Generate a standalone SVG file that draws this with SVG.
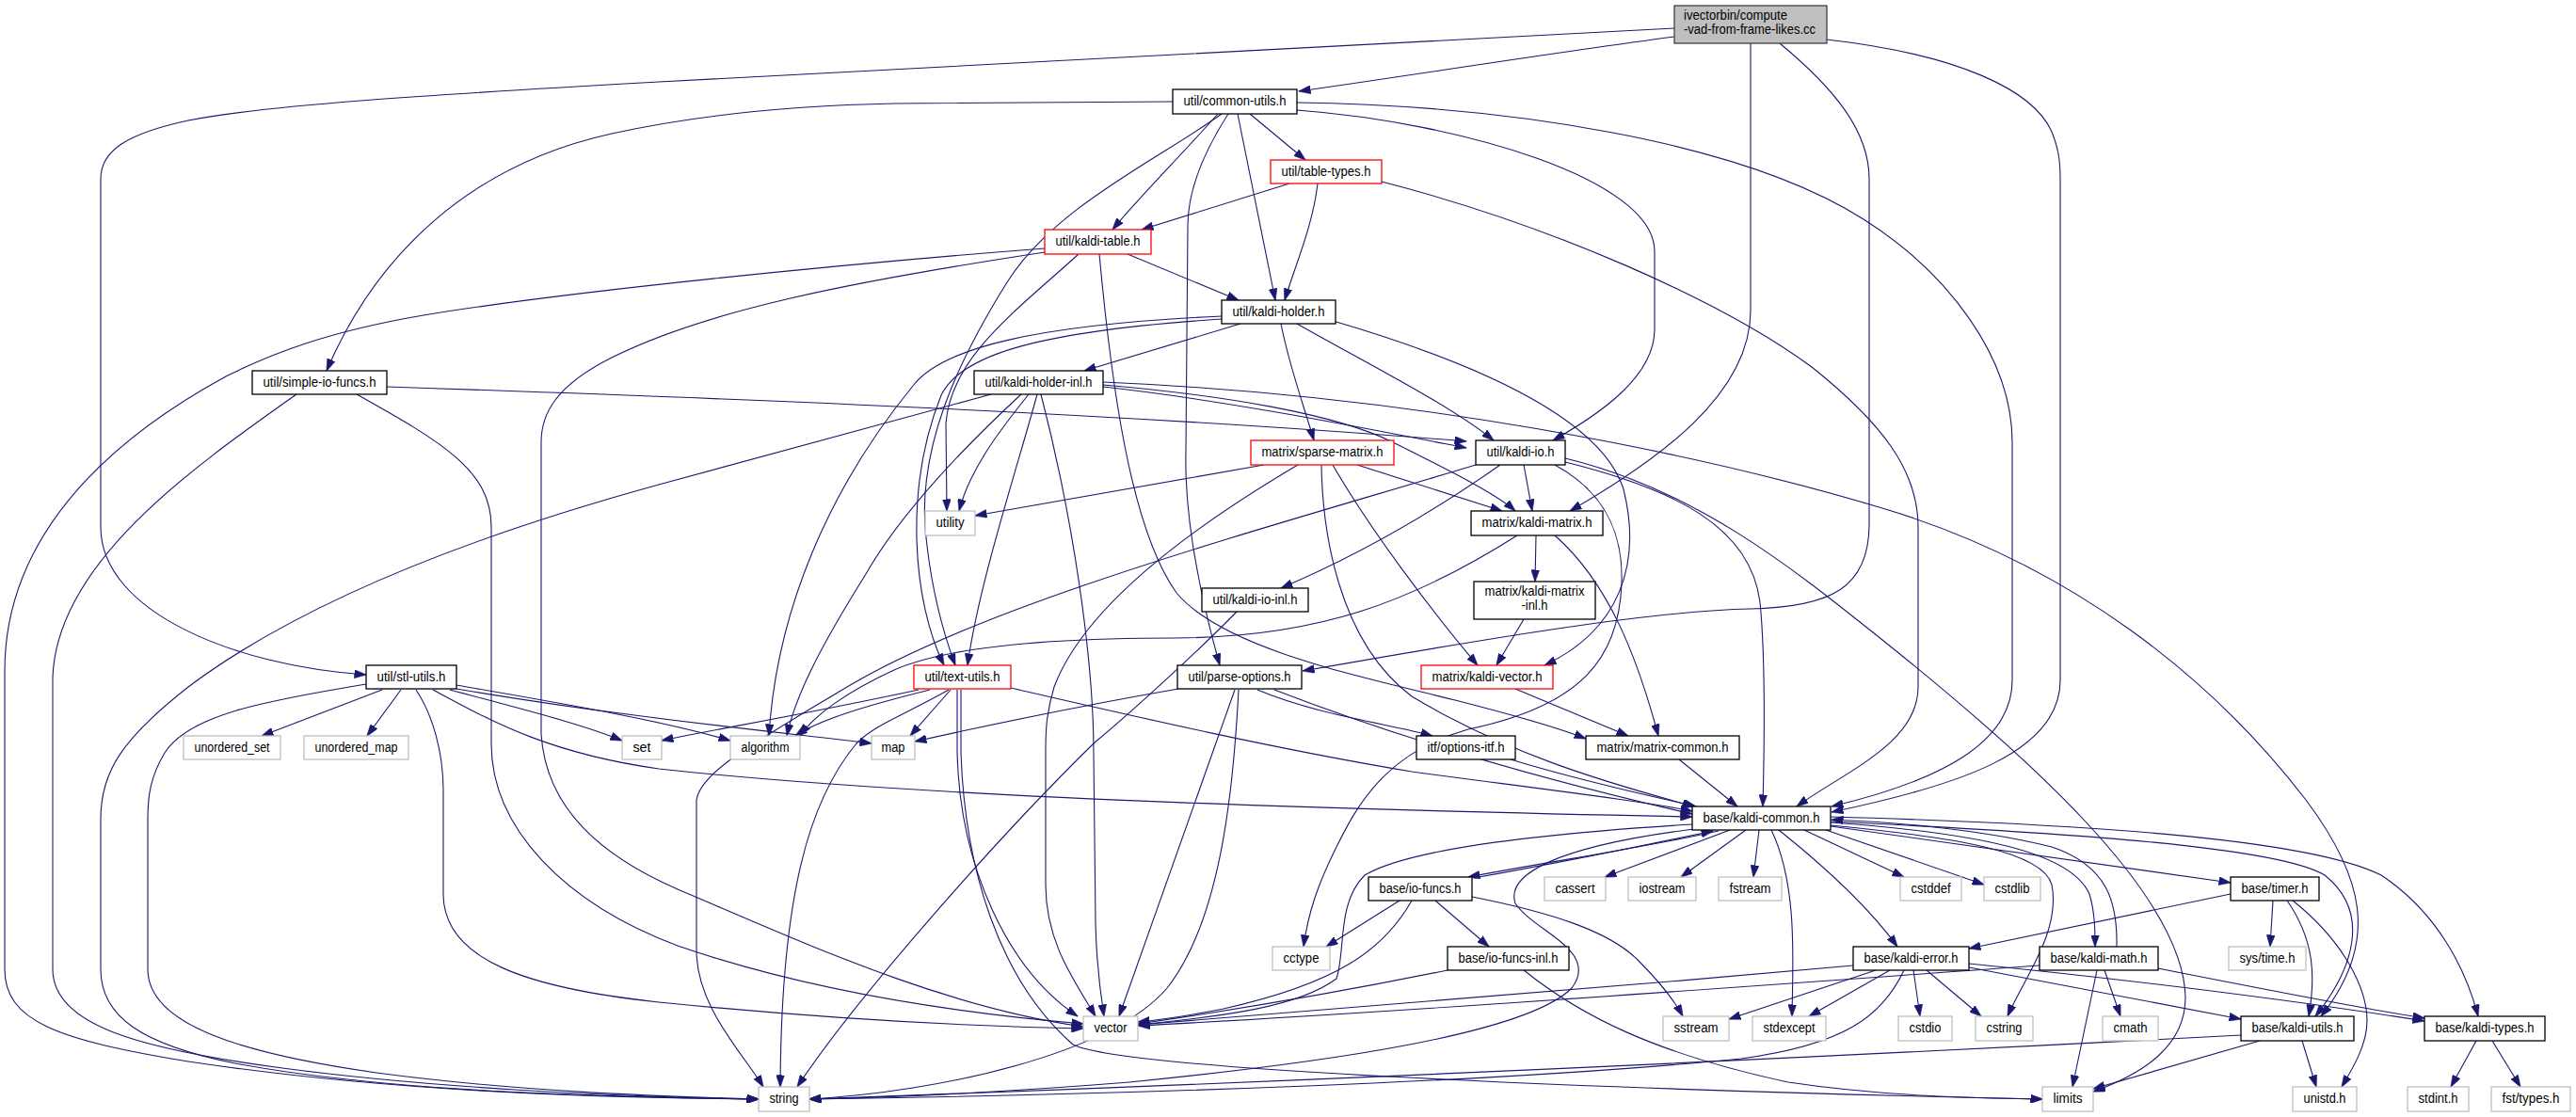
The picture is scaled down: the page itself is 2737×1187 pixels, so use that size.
<svg xmlns="http://www.w3.org/2000/svg" width="2737" height="1187" viewBox="0 0 2737 1187">
<style>
.n rect{fill:#ffffff;stroke:#000000;stroke-width:1.3}
.n.r rect{stroke:#ff0000}
.n.g rect{stroke:#bfbfbf}
.n.m rect{fill:#bfbfbf;stroke:#404040}
text{font-family:"Liberation Sans",Arial,sans-serif;font-size:14px;fill:#000000;text-anchor:middle}
.m text{text-anchor:start}
.e path{fill:none;stroke:#191970;stroke-width:1.1;marker-end:url(#a)}
</style>
<defs>
<marker id="a" markerWidth="13" markerHeight="9" refX="12.5" refY="4.5" orient="auto" markerUnits="userSpaceOnUse"><path d="M0,0 L13,4.5 L0,9 z" fill="#191970" stroke="#191970" stroke-width="0.5"/></marker>
</defs>
<rect x="0" y="0" width="2737" height="1187" fill="#ffffff"/>
<g id="edges" class="e">
<path d="M1779,39 C1650,56 1500,80 1380,97"/>
<path d="M1779,30 L700,87 C450,101 280,112 200,128 C135,142 107,160 107,190 L107,560 C107,650 250,708 389,717"/>
<path d="M1860,46 L1860,330 C1860,420 1760,490 1668,543"/>
<path d="M1891,46 C1950,95 1986,140 1986,190 L1986,557 C1986,625 1945,645 1860,647 C1760,649 1600,675 1384,713"/>
<path d="M1941,42 C2080,58 2160,95 2180,140 C2187,158 2189,170 2189,190 L2189,723 C2189,800 2080,835 1946,863"/>
<path d="M1246,108 L950,110 C850,112 750,120 650,142 C500,175 400,270 347,394"/>
<path d="M1328,121 L1387,170"/>
<path d="M1294,121 C1255,165 1210,210 1182,244"/>
<path d="M1315,121 L1355,319"/>
<path d="M1370,195 L1213,244"/>
<path d="M1400,195 C1395,240 1375,285 1365,319"/>
<path d="M1378,117 C1550,130 1758,190 1758,267 L1758,350 C1758,400 1700,440 1650,468"/>
<path d="M1378,109 C1600,112 1850,150 1980,233 C2070,290 2138,380 2138,470 L2138,723 C2138,790 2060,830 1946,857"/>
<path d="M1468,193 C1650,240 1830,320 1925,390 C2000,450 2038,500 2038,560 L2038,730 C2038,790 1960,820 1909,857"/>
<path d="M1198,270 L1316,319"/>
<path d="M1146,270 C1080,330 1010,380 1005,450 L1006,543"/>
<path d="M1110,264 C900,280 600,310 450,335 C350,352 290,375 240,400 C130,460 5,560 5,713 L5,1030 C5,1085 60,1105 200,1128 C400,1158 600,1166 806,1168"/>
<path d="M1110,268 C900,300 750,330 650,380 C590,410 575,440 575,470 L575,780 C580,860 640,910 720,945 C850,1000 1000,1070 1151,1091"/>
<path d="M1168,270 C1180,400 1200,560 1250,630 C1300,690 1450,720 1550,745 C1620,763 1660,775 1685,785"/>
<path d="M1318,344 L1152,394"/>
<path d="M1361,344 C1370,390 1385,430 1396,468"/>
<path d="M1378,344 C1450,385 1540,430 1587,468"/>
<path d="M1413,340 C1550,380 1700,440 1725,520 C1745,600 1720,670 1641,707"/>
<path d="M1298,336 C1100,345 1000,370 970,410 C880,520 825,650 817,782"/>
<path d="M1298,339 C1100,352 1020,378 1000,420 C960,520 970,640 1003,707"/>
<path d="M1298,121 C1230,170 1120,220 1070,300 C1020,380 970,480 985,580 C992,640 1005,680 1015,707"/>
<path d="M1305,121 C1280,160 1262,200 1262,240 L1260,480 C1258,560 1280,650 1296,707"/>
<path d="M1053,419 L700,515 C500,570 320,640 200,730 C130,785 107,820 107,870 L107,1030 C107,1080 150,1110 250,1130 C400,1158 600,1165 806,1168"/>
<path d="M389,727 C280,745 200,760 175,800 C160,825 157,845 157,870 L157,1030 C157,1090 260,1120 400,1140 C550,1160 700,1165 806,1168"/>
<path d="M315,419 C200,500 60,600 56,720 L56,1030 C56,1090 150,1115 300,1135 C450,1155 650,1166 806,1168"/>
<path d="M379,419 C470,470 522,500 522,560 L522,790 C522,880 600,960 720,1005 C850,1050 1000,1075 1151,1088"/>
<path d="M442,733 C460,760 471,800 471,840 L471,950 C471,1020 560,1050 700,1065 C850,1080 1000,1090 1151,1093"/>
<path d="M406,733 L278,782"/>
<path d="M426,733 L390,782"/>
<path d="M478,733 C560,755 620,770 661,787"/>
<path d="M485,728 C600,748 700,765 776,787"/>
<path d="M485,732 C650,760 800,775 926,790"/>
<path d="M460,733 C520,765 580,800 700,817 C1000,850 1500,862 1798,868"/>
<path d="M1568,494 C1350,560 1050,640 900,730 C800,790 745,820 740,850 L740,1010 C740,1070 790,1120 811,1155"/>
<path d="M1594,494 C1500,560 1420,600 1361,625"/>
<path d="M1619,494 L1628,543"/>
<path d="M1652,494 C1700,520 1725,560 1723,620 C1720,700 1680,750 1560,775 C1470,800 1440,860 1420,900 C1400,940 1390,970 1385,1006"/>
<path d="M1663,487 C1800,520 1900,600 2000,680 C2150,800 2320,950 2322,1060 C2322,1110 2280,1140 2224,1160"/>
<path d="M1663,491 C1780,520 1860,560 1870,640 C1876,700 1875,780 1873,857"/>
<path d="M1172,411 C1300,425 1450,455 1558,476"/>
<path d="M1172,409 C1300,420 1420,440 1480,470 C1540,500 1590,525 1610,543"/>
<path d="M1172,406 C1500,420 1800,480 2000,540 C2200,600 2350,720 2450,850 C2510,930 2530,1000 2466,1080"/>
<path d="M411,411 C800,424 1200,440 1558,469"/>
<path d="M1093,419 C1060,460 1030,500 1019,543"/>
<path d="M1085,419 C1030,470 960,540 920,610 C870,690 845,740 836,782"/>
<path d="M1102,419 C1080,500 1040,620 1028,707"/>
<path d="M1106,419 C1140,550 1162,700 1162,800 L1164,980 C1165,1030 1170,1060 1173,1080"/>
<path d="M1343,494 L1036,548"/>
<path d="M1442,494 L1596,543"/>
<path d="M1416,494 C1460,570 1530,660 1570,707"/>
<path d="M1379,494 C1250,570 1150,650 1120,730 C1111,760 1111,780 1111,800 L1111,940 C1111,1000 1140,1040 1164,1080"/>
<path d="M1404,494 C1405,560 1420,680 1500,740 C1600,800 1700,830 1800,857"/>
<path d="M1632,569 L1631,618"/>
<path d="M1652,569 C1710,620 1740,700 1762,782"/>
<path d="M1612,569 C1500,640 1400,677 1250,678 C1100,678 1000,690 950,712 C900,735 865,760 850,782"/>
<path d="M1619,658 L1590,707"/>
<path d="M1610,732 L1730,782"/>
<path d="M976,733 C850,760 760,775 703,787"/>
<path d="M988,733 C920,750 870,765 845,782"/>
<path d="M1010,733 L967,782"/>
<path d="M1008,733 C960,760 930,770 910,790 C860,850 830,950 829,1155"/>
<path d="M1017,733 L1017,800 C1020,920 1070,1030 1145,1080"/>
<path d="M1021,733 L1021,800 C1025,920 1060,1040 1140,1110 C1200,1140 1800,1160 2170,1168"/>
<path d="M1074,731 C1200,760 1350,795 1500,820 C1650,840 1750,852 1798,862"/>
<path d="M1252,732 C1120,755 1030,775 972,788"/>
<path d="M1312,733 L1189,1080"/>
<path d="M1316,733 C1310,850 1295,980 1240,1050 C1180,1120 1000,1160 860,1168"/>
<path d="M1336,733 C1400,760 1480,770 1522,782"/>
<path d="M1354,733 C1450,770 1600,820 1798,865"/>
<path d="M1605,807 C1680,830 1750,845 1802,857"/>
<path d="M1784,807 L1846,857"/>
<path d="M1826,883 C1750,900 1650,915 1560,932"/>
<path d="M1566,933 C1650,918 1740,900 1820,883"/>
<path d="M1838,882 L1705,932"/>
<path d="M1855,882 L1786,932"/>
<path d="M1869,882 L1863,932"/>
<path d="M1882,882 C1910,940 1905,1020 1904,1080"/>
<path d="M1890,882 C1950,930 1990,970 2016,1006"/>
<path d="M1917,882 L2023,932"/>
<path d="M1940,882 L2108,940"/>
<path d="M1945,878 C2100,900 2250,920 2370,938"/>
<path d="M1945,874 C2100,885 2200,905 2220,950 C2226,970 2226,990 2226,1006"/>
<path d="M2249,1006 C2250,960 2240,920 2180,900 C2100,880 2000,873 1946,871"/>
<path d="M1945,877 C2080,890 2170,905 2180,940 C2190,990 2150,1040 2133,1080"/>
<path d="M1945,873 C2200,885 2420,900 2470,930 C2520,970 2500,1030 2460,1080"/>
<path d="M1945,868 C2200,875 2450,890 2530,930 C2590,970 2620,1030 2633,1080"/>
<path d="M1798,876 C1650,885 1500,900 1450,930 C1420,960 1430,1010 1420,1040 C1380,1070 1300,1080 1209,1089"/>
<path d="M1800,881 C1650,900 1600,930 1610,960 C1630,990 1700,1010 1670,1050 C1620,1100 1400,1130 1200,1150 C1050,1162 950,1166 860,1168"/>
<path d="M1487,957 L1409,1006"/>
<path d="M1500,957 C1470,1010 1420,1045 1300,1072 C1260,1080 1230,1084 1209,1086"/>
<path d="M1525,957 L1582,1006"/>
<path d="M1564,953 C1650,970 1710,990 1740,1020 C1765,1045 1780,1065 1788,1080"/>
<path d="M1538,1031 C1420,1055 1300,1075 1209,1088"/>
<path d="M1619,1031 C1680,1080 1760,1120 1900,1150 C2000,1165 2100,1167 2170,1168"/>
<path d="M1969,1026 C1700,1050 1400,1075 1209,1089"/>
<path d="M1993,1031 L1837,1083"/>
<path d="M2008,1031 L1922,1080"/>
<path d="M2023,1031 C2000,1080 1960,1110 1850,1125 C1600,1150 1200,1163 860,1168"/>
<path d="M2033,1031 L2040,1080"/>
<path d="M2047,1031 L2105,1080"/>
<path d="M2092,1028 L2381,1083"/>
<path d="M2092,1024 C2300,1045 2450,1065 2576,1085"/>
<path d="M2167,1026 C1900,1045 1500,1075 1209,1090"/>
<path d="M2228,1031 L2202,1155"/>
<path d="M2236,1031 L2253,1080"/>
<path d="M2293,1029 C2400,1050 2500,1070 2576,1082"/>
<path d="M2370,950 L2092,1008"/>
<path d="M2415,957 L2412,1006"/>
<path d="M2430,957 C2460,1000 2460,1040 2453,1080"/>
<path d="M2436,957 C2490,1000 2515,1050 2515,1085 C2515,1110 2500,1135 2488,1155"/>
<path d="M2381,1100 C2000,1120 1500,1145 860,1168"/>
<path d="M2401,1106 L2224,1157"/>
<path d="M2446,1106 L2461,1155"/>
<path d="M2631,1106 L2604,1155"/>
<path d="M2648,1106 L2678,1155"/>
<path d="M1314,650 C1280,685 1210,750 1162,790 C1060,890 910,1060 847,1155"/>
</g>
<g id="n_main" class="n m"><rect x="1779" y="6" width="162" height="40"/><text x="1789" y="21" textLength="110" lengthAdjust="spacingAndGlyphs">ivectorbin/compute</text><text x="1789" y="36" textLength="140" lengthAdjust="spacingAndGlyphs">-vad-from-frame-likes.cc</text></g>
<g id="n_common_utils" class="n"><rect x="1246" y="95" width="132" height="26"/><text x="1312" y="112" textLength="109" lengthAdjust="spacingAndGlyphs">util/common-utils.h</text></g>
<g id="n_table_types" class="n r"><rect x="1350" y="170" width="118" height="25"/><text x="1409" y="187" textLength="95" lengthAdjust="spacingAndGlyphs">util/table-types.h</text></g>
<g id="n_kaldi_table" class="n r"><rect x="1110" y="244" width="113" height="26"/><text x="1166.5" y="261" textLength="90" lengthAdjust="spacingAndGlyphs">util/kaldi-table.h</text></g>
<g id="n_kaldi_holder" class="n"><rect x="1298" y="319" width="121" height="25"/><text x="1358.5" y="336" textLength="98" lengthAdjust="spacingAndGlyphs">util/kaldi-holder.h</text></g>
<g id="n_simple_io_funcs" class="n"><rect x="268" y="394" width="143" height="25"/><text x="339.5" y="411" textLength="120" lengthAdjust="spacingAndGlyphs">util/simple-io-funcs.h</text></g>
<g id="n_kaldi_holder_inl" class="n"><rect x="1035" y="394" width="137" height="25"/><text x="1103.5" y="411" textLength="114" lengthAdjust="spacingAndGlyphs">util/kaldi-holder-inl.h</text></g>
<g id="n_sparse_matrix" class="n r"><rect x="1329" y="468" width="152" height="26"/><text x="1405" y="485" textLength="129" lengthAdjust="spacingAndGlyphs">matrix/sparse-matrix.h</text></g>
<g id="n_kaldi_io" class="n"><rect x="1568" y="468" width="95" height="26"/><text x="1615.5" y="485" textLength="72" lengthAdjust="spacingAndGlyphs">util/kaldi-io.h</text></g>
<g id="n_utility" class="n g"><rect x="983" y="543" width="53" height="26"/><text x="1009.5" y="560" textLength="30" lengthAdjust="spacingAndGlyphs">utility</text></g>
<g id="n_kaldi_matrix" class="n"><rect x="1563" y="543" width="140" height="26"/><text x="1633" y="560" textLength="117" lengthAdjust="spacingAndGlyphs">matrix/kaldi-matrix.h</text></g>
<g id="n_kaldi_io_inl" class="n"><rect x="1277" y="625" width="113" height="25"/><text x="1333.5" y="642" textLength="90" lengthAdjust="spacingAndGlyphs">util/kaldi-io-inl.h</text></g>
<g id="n_kaldi_matrix_inl" class="n"><rect x="1566" y="618" width="129" height="40"/><text x="1630.5" y="633" textLength="106" lengthAdjust="spacingAndGlyphs">matrix/kaldi-matrix</text><text x="1630.5" y="648" textLength="28" lengthAdjust="spacingAndGlyphs">-inl.h</text></g>
<g id="n_stl_utils" class="n"><rect x="389" y="707" width="96" height="25"/><text x="437" y="724" textLength="73" lengthAdjust="spacingAndGlyphs">util/stl-utils.h</text></g>
<g id="n_text_utils" class="n r"><rect x="971" y="707" width="103" height="25"/><text x="1022.5" y="724" textLength="80" lengthAdjust="spacingAndGlyphs">util/text-utils.h</text></g>
<g id="n_parse_options" class="n"><rect x="1251" y="707" width="132" height="25"/><text x="1317" y="724" textLength="109" lengthAdjust="spacingAndGlyphs">util/parse-options.h</text></g>
<g id="n_kaldi_vector" class="n r"><rect x="1510" y="707" width="140" height="25"/><text x="1580" y="724" textLength="117" lengthAdjust="spacingAndGlyphs">matrix/kaldi-vector.h</text></g>
<g id="n_unordered_set" class="n g"><rect x="195" y="782" width="103" height="25"/><text x="246.5" y="799" textLength="80" lengthAdjust="spacingAndGlyphs">unordered_set</text></g>
<g id="n_unordered_map" class="n g"><rect x="323" y="782" width="111" height="25"/><text x="378.5" y="799" textLength="88" lengthAdjust="spacingAndGlyphs">unordered_map</text></g>
<g id="n_set" class="n g"><rect x="661" y="782" width="42" height="25"/><text x="682" y="799" textLength="19" lengthAdjust="spacingAndGlyphs">set</text></g>
<g id="n_algorithm" class="n g"><rect x="776" y="782" width="74" height="25"/><text x="813" y="799" textLength="51" lengthAdjust="spacingAndGlyphs">algorithm</text></g>
<g id="n_map" class="n g"><rect x="926" y="782" width="46" height="25"/><text x="949" y="799" textLength="25" lengthAdjust="spacingAndGlyphs">map</text></g>
<g id="n_options_itf" class="n"><rect x="1505" y="782" width="105" height="25"/><text x="1557.5" y="799" textLength="82" lengthAdjust="spacingAndGlyphs">itf/options-itf.h</text></g>
<g id="n_matrix_common" class="n"><rect x="1685" y="782" width="163" height="25"/><text x="1766.5" y="799" textLength="140" lengthAdjust="spacingAndGlyphs">matrix/matrix-common.h</text></g>
<g id="n_kaldi_common" class="n"><rect x="1798" y="857" width="147" height="25"/><text x="1871.5" y="874" textLength="124" lengthAdjust="spacingAndGlyphs">base/kaldi-common.h</text></g>
<g id="n_io_funcs" class="n"><rect x="1454" y="932" width="110" height="25"/><text x="1509" y="949" textLength="87" lengthAdjust="spacingAndGlyphs">base/io-funcs.h</text></g>
<g id="n_cassert" class="n g"><rect x="1641" y="932" width="65" height="25"/><text x="1673.5" y="949" textLength="42" lengthAdjust="spacingAndGlyphs">cassert</text></g>
<g id="n_iostream" class="n g"><rect x="1730" y="932" width="72" height="25"/><text x="1766" y="949" textLength="49" lengthAdjust="spacingAndGlyphs">iostream</text></g>
<g id="n_fstream" class="n g"><rect x="1826" y="932" width="67" height="25"/><text x="1859.5" y="949" textLength="44" lengthAdjust="spacingAndGlyphs">fstream</text></g>
<g id="n_cstddef" class="n g"><rect x="2019" y="932" width="65" height="25"/><text x="2051.5" y="949" textLength="42" lengthAdjust="spacingAndGlyphs">cstddef</text></g>
<g id="n_cstdlib" class="n g"><rect x="2108" y="932" width="60" height="25"/><text x="2138" y="949" textLength="37" lengthAdjust="spacingAndGlyphs">cstdlib</text></g>
<g id="n_timer" class="n"><rect x="2370" y="932" width="94" height="25"/><text x="2417" y="949" textLength="71" lengthAdjust="spacingAndGlyphs">base/timer.h</text></g>
<g id="n_cctype" class="n g"><rect x="1352" y="1006" width="61" height="25"/><text x="1382.5" y="1023" textLength="38" lengthAdjust="spacingAndGlyphs">cctype</text></g>
<g id="n_io_funcs_inl" class="n"><rect x="1538" y="1006" width="129" height="25"/><text x="1602.5" y="1023" textLength="106" lengthAdjust="spacingAndGlyphs">base/io-funcs-inl.h</text></g>
<g id="n_kaldi_error" class="n"><rect x="1969" y="1006" width="123" height="25"/><text x="2030.5" y="1023" textLength="100" lengthAdjust="spacingAndGlyphs">base/kaldi-error.h</text></g>
<g id="n_kaldi_math" class="n"><rect x="2167" y="1006" width="126" height="25"/><text x="2230" y="1023" textLength="103" lengthAdjust="spacingAndGlyphs">base/kaldi-math.h</text></g>
<g id="n_sys_time" class="n g"><rect x="2368" y="1006" width="82" height="25"/><text x="2409" y="1023" textLength="59" lengthAdjust="spacingAndGlyphs">sys/time.h</text></g>
<g id="n_vector" class="n g"><rect x="1151" y="1080" width="58" height="26"/><text x="1180" y="1097" textLength="35" lengthAdjust="spacingAndGlyphs">vector</text></g>
<g id="n_sstream" class="n g"><rect x="1767" y="1080" width="70" height="26"/><text x="1802" y="1097" textLength="47" lengthAdjust="spacingAndGlyphs">sstream</text></g>
<g id="n_stdexcept" class="n g"><rect x="1862" y="1080" width="78" height="26"/><text x="1901" y="1097" textLength="55" lengthAdjust="spacingAndGlyphs">stdexcept</text></g>
<g id="n_cstdio" class="n g"><rect x="2017" y="1080" width="57" height="26"/><text x="2045.5" y="1097" textLength="34" lengthAdjust="spacingAndGlyphs">cstdio</text></g>
<g id="n_cstring" class="n g"><rect x="2099" y="1080" width="61" height="26"/><text x="2129.5" y="1097" textLength="38" lengthAdjust="spacingAndGlyphs">cstring</text></g>
<g id="n_cmath" class="n g"><rect x="2234" y="1080" width="59" height="26"/><text x="2263.5" y="1097" textLength="36" lengthAdjust="spacingAndGlyphs">cmath</text></g>
<g id="n_kaldi_utils" class="n"><rect x="2381" y="1080" width="120" height="26"/><text x="2441" y="1097" textLength="97" lengthAdjust="spacingAndGlyphs">base/kaldi-utils.h</text></g>
<g id="n_kaldi_types" class="n"><rect x="2576" y="1080" width="128" height="26"/><text x="2640" y="1097" textLength="105" lengthAdjust="spacingAndGlyphs">base/kaldi-types.h</text></g>
<g id="n_string" class="n g"><rect x="806" y="1155" width="54" height="26"/><text x="833" y="1172" textLength="31" lengthAdjust="spacingAndGlyphs">string</text></g>
<g id="n_limits" class="n g"><rect x="2170" y="1155" width="54" height="26"/><text x="2197" y="1172" textLength="31" lengthAdjust="spacingAndGlyphs">limits</text></g>
<g id="n_unistd" class="n g"><rect x="2436" y="1155" width="68" height="26"/><text x="2470" y="1172" textLength="45" lengthAdjust="spacingAndGlyphs">unistd.h</text></g>
<g id="n_stdint" class="n g"><rect x="2558" y="1155" width="65" height="26"/><text x="2590.5" y="1172" textLength="42" lengthAdjust="spacingAndGlyphs">stdint.h</text></g>
<g id="n_fst_types" class="n g"><rect x="2647" y="1155" width="84" height="26"/><text x="2689" y="1172" textLength="61" lengthAdjust="spacingAndGlyphs">fst/types.h</text></g>
</svg>
